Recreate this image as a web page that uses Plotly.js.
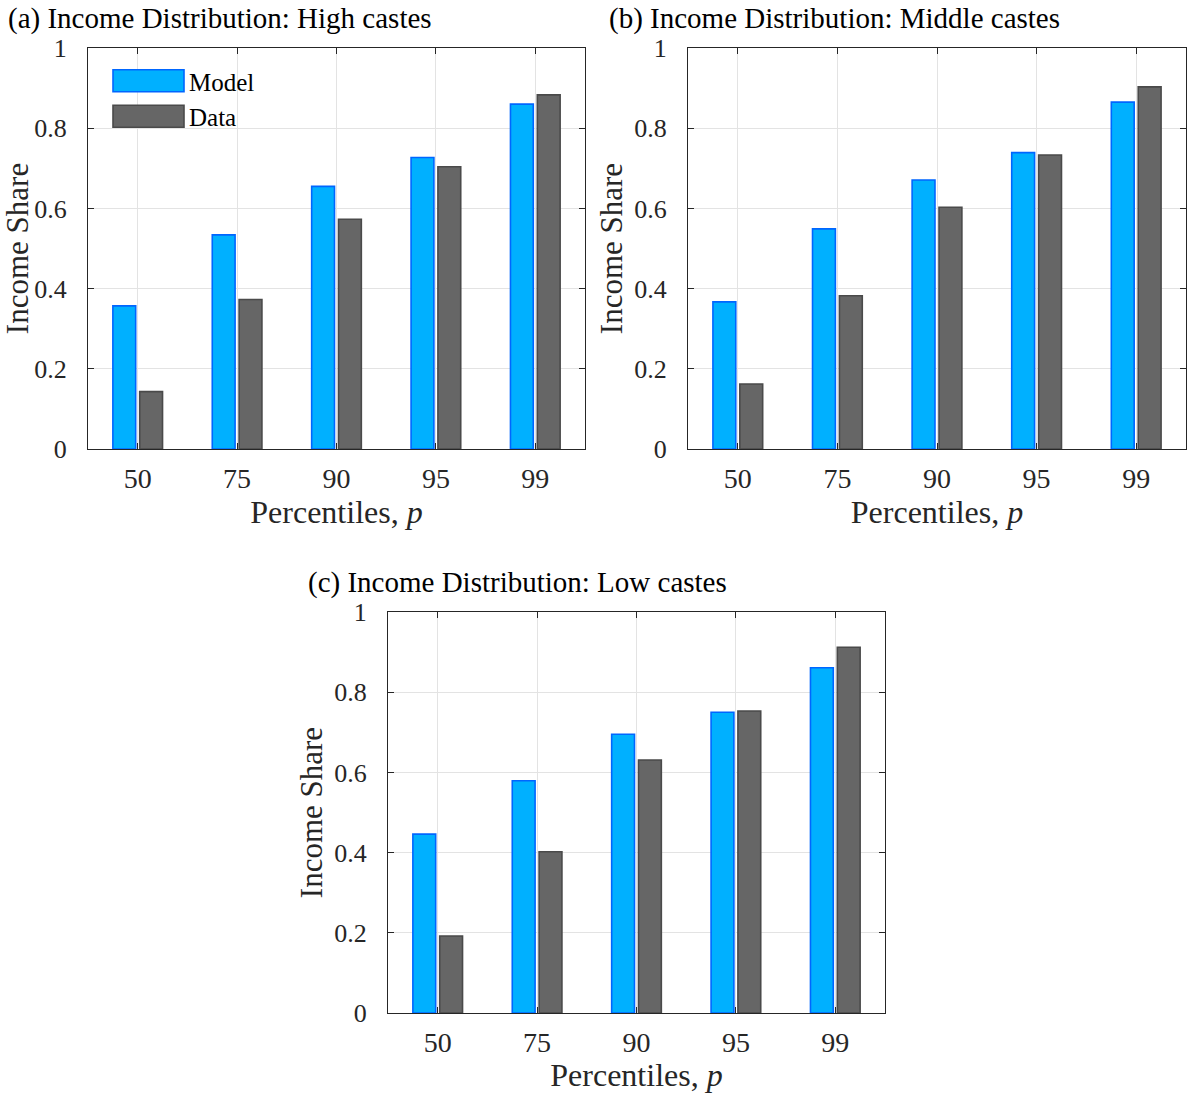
<!DOCTYPE html>
<html>
<head>
<meta charset="utf-8">
<script src="https://cdn.plot.ly/plotly-3.0.1.min.js"></script>
<style>html,body{margin:0;padding:0;background:#fff}#chart{width:1194px;height:1093px}</style>
</head>
<body>
<div id="chart"></div>
<script>
const percentiles = ["50", "75", "90", "95", "99"];
const panelTitles = [
  "(a) Income Distribution: High castes",
  "(b) Income Distribution: Middle castes",
  "(c) Income Distribution: Low castes"
];
const highModel = [0.357, 0.534, 0.655, 0.727, 0.860];
const highData = [0.143, 0.373, 0.573, 0.704, 0.883];
const middleModel = [0.367, 0.549, 0.671, 0.739, 0.865];
const middleData = [0.162, 0.382, 0.603, 0.733, 0.903];
const lowModel = [0.446, 0.579, 0.695, 0.750, 0.861];
const lowData = [0.192, 0.402, 0.631, 0.753, 0.912];
const yTicks = [0, 0.2, 0.4, 0.6, 0.8, 1];
const yTickText = ["0", "0.2", "0.4", "0.6", "0.8", "1"];

const FONT = '"Liberation Serif", "Times New Roman", Times, serif';
const TXT = '#262626';
const modelStyle = {color: '#00b0ff', line: {color: '#0066ff', width: 1.6}};
const dataStyle = {color: '#666666', line: {color: '#4a4a4a', width: 1.6}};

const panels = [
  {model: highModel, data: highData, xa: 'x', ya: 'y'},
  {model: middleModel, data: middleData, xa: 'x2', ya: 'y2'},
  {model: lowModel, data: lowData, xa: 'x3', ya: 'y3'}
];

const traces = [];
panels.forEach((p, i) => {
  traces.push({type: 'bar', name: 'Model', x: percentiles, y: p.model, xaxis: p.xa, yaxis: p.ya,
    marker: modelStyle, showlegend: i === 0, hoverinfo: 'x+y'});
  traces.push({type: 'bar', name: 'Data', x: percentiles, y: p.data, xaxis: p.xa, yaxis: p.ya,
    marker: dataStyle, showlegend: i === 0, hoverinfo: 'x+y'});
});

function xAxis(domain, anchor) {
  return {
    domain: domain, anchor: anchor, type: 'category', range: [-0.5, 4.5],
    showline: true, mirror: 'ticks', linecolor: TXT, linewidth: 1,
    ticks: 'inside', ticklen: 6, tickcolor: TXT,
    showgrid: true, gridcolor: '#e3e3e3', gridwidth: 1,
    tickfont: {family: FONT, size: 28, color: TXT}, ticklabelstandoff: 4,
    title: {text: 'Percentiles, <i>p</i>', font: {family: FONT, size: 32, color: TXT}, standoff: 3},
    zeroline: false, fixedrange: true
  };
}
function yAxis(domain, anchor) {
  return {
    domain: domain, anchor: anchor, range: [0, 1],
    tickvals: yTicks, ticktext: yTickText,
    showline: true, mirror: 'ticks', linecolor: TXT, linewidth: 1,
    ticks: 'inside', ticklen: 6, tickcolor: TXT,
    showgrid: true, gridcolor: '#e3e3e3', gridwidth: 1,
    tickfont: {family: FONT, size: 26, color: TXT}, ticklabelstandoff: 15,
    title: {text: 'Income Share', font: {family: FONT, size: 31, color: TXT}, standoff: 2},
    zeroline: false, fixedrange: true
  };
}

const W = 1194, H = 1093;
const dA = [88 / W, 585 / W], dB = [688 / W, 1186 / W], dC = [388 / W, 885 / W];
const yTop = [1 - 449 / H, 1 - 48 / H], yBot = [1 - 1013 / H, 1 - 612 / H];

const layout = {
  width: W, height: H,
  margin: {l: 0, r: 0, t: 0, b: 0},
  paper_bgcolor: '#ffffff', plot_bgcolor: '#ffffff',
  font: {family: FONT, color: TXT},
  barmode: 'group', bargap: 0.46, bargroupgap: 0.15,
  xaxis: xAxis(dA, 'y'), yaxis: yAxis(yTop, 'x'),
  xaxis2: xAxis(dB, 'y2'), yaxis2: yAxis(yTop, 'x2'),
  xaxis3: xAxis(dC, 'y3'), yaxis3: yAxis(yBot, 'x3'),
  legend: {x: 99 / W, y: 1 - 58 / H, xanchor: 'left', yanchor: 'top',
    bgcolor: 'rgba(0,0,0,0)', borderwidth: 0, itemwidth: 80,
    font: {family: FONT, size: 25, color: '#000'}, tracegroupgap: 0},
  annotations: [
    {text: panelTitles[0], x: 6 / W, y: 1 - 18 / H, xref: 'paper', yref: 'paper', xanchor: 'left', yanchor: 'middle', showarrow: false, font: {family: FONT, size: 29, color: '#000'}},
    {text: panelTitles[1], x: 607 / W, y: 1 - 18 / H, xref: 'paper', yref: 'paper', xanchor: 'left', yanchor: 'middle', showarrow: false, font: {family: FONT, size: 29, color: '#000'}},
    {text: panelTitles[2], x: 306 / W, y: 1 - 582 / H, xref: 'paper', yref: 'paper', xanchor: 'left', yanchor: 'middle', showarrow: false, font: {family: FONT, size: 29, color: '#000'}}
  ]
};

Plotly.newPlot('chart', traces, layout, {displayModeBar: false, staticPlot: true}).then(() => {
  // widen legend swatches to match the reference's long rectangles
  document.querySelectorAll('.legend .legendpoints path').forEach(p => {
    p.setAttribute('d', 'M-31,-11H40V11H-31Z');
  });
});
</script>
</body>
</html>
